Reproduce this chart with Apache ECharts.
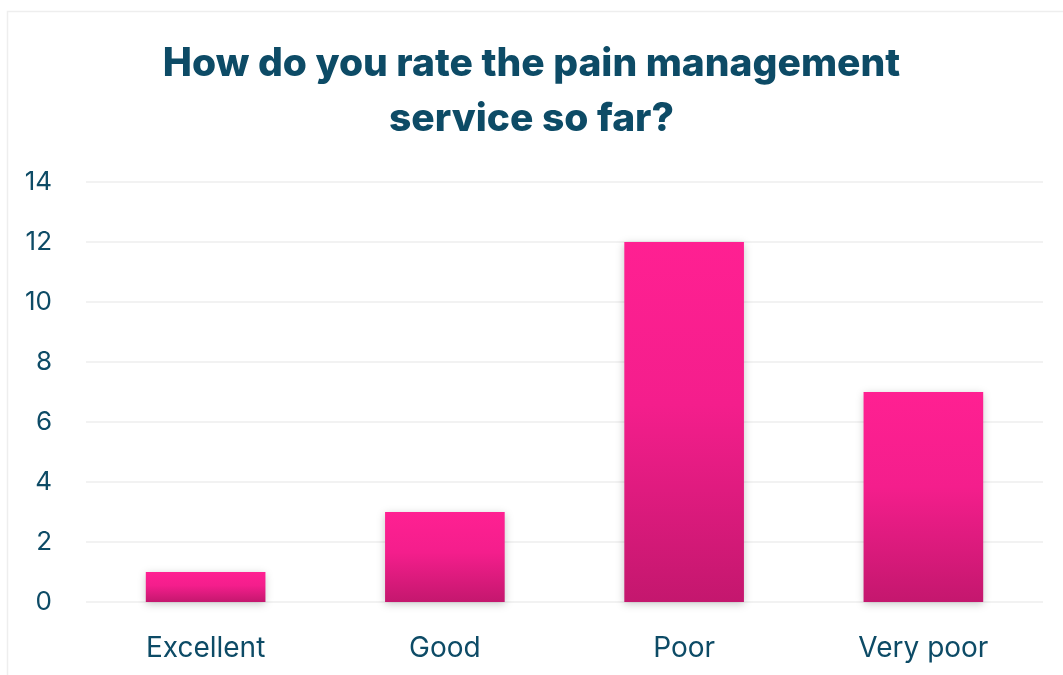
<!DOCTYPE html>
<html>
<head>
<meta charset="utf-8">
<style>
  html, body { margin: 0; padding: 0; background: #ffffff; }
  #chart { width: 1063px; height: 675px; }
</style>
<script src="https://cdn.jsdelivr.net/npm/echarts@6/dist/echarts.min.js"></script>
</head>
<body>
<div id="chart"></div>
<script>
// Survey answers and how many respondents chose each
const categories = ['Excellent', 'Good', 'Poor', 'Very poor'];
const counts = [1, 3, 12, 7];
const yTicks = { min: 0, max: 14, interval: 2 };

const textColor = '#0d4b66';
const fontFamily = 'Inter, "Open Sans", "Noto Sans", sans-serif';

const chart = echarts.init(document.getElementById('chart'), null, { renderer: 'canvas' });

chart.setOption({
  backgroundColor: '#ffffff',
  animation: false,
  title: {
    text: 'How do you rate the pain management\nservice so far?',
    left: 'center',
    top: 32,
    textStyle: {
      color: textColor,
      fontFamily: fontFamily,
      fontWeight: 800,
      fontSize: 39,
      lineHeight: 55
    }
  },
  graphic: [{
    type: 'rect',
    shape: { x: 7.5, y: 11.5, width: 1100, height: 700 },
    style: { fill: 'none', stroke: '#eeeeee', lineWidth: 1.5 },
    silent: true,
    z: -1
  }],
  grid: { left: 86, right: 20, top: 182, bottom: 73, containLabel: false },
  xAxis: {
    type: 'category',
    data: categories,
    axisLine: { show: false },
    axisTick: { show: false },
    axisLabel: {
      color: textColor,
      fontFamily: fontFamily,
      fontSize: 28,
      margin: 33
    }
  },
  yAxis: {
    type: 'value',
    min: yTicks.min,
    max: yTicks.max,
    interval: yTicks.interval,
    axisLine: { show: false },
    axisTick: { show: false },
    splitLine: { lineStyle: { color: '#f2f2f2', width: 2 } },
    axisLabel: {
      color: textColor,
      fontFamily: fontFamily,
      fontSize: 26,
      margin: 34
    }
  },
  series: [{
    type: 'bar',
    data: counts,
    barWidth: '50%',
    itemStyle: {
      color: new echarts.graphic.LinearGradient(0, 0, 0, 1, [
        { offset: 0, color: '#ff2092' },
        { offset: 0.45, color: '#f41e8c' },
        { offset: 1, color: '#c4176e' }
      ]),
      shadowColor: 'rgba(0,0,0,0.22)',
      shadowBlur: 8,
      shadowOffsetY: 2
    }
  }]
});
</script>
</body>
</html>
